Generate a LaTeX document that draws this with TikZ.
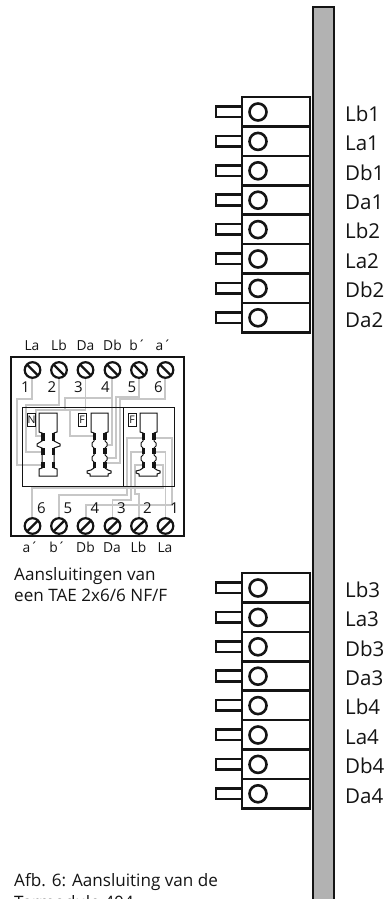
\documentclass[tikz,border=0pt]{standalone}
\usepackage{fontspec}
\setmainfont{Open Sans}
\definecolor{rail}{gray}{0.70}
\definecolor{wire}{gray}{0.78}
\definecolor{ink}{gray}{0.08}
\tikzset{
  heavy/.style={draw=ink,line width=2.6pt},
  raillined/.style={draw=ink,line width=2pt},
  thin box/.style={draw=ink,line width=0.9pt},
  wirepath/.style={draw=wire,line width=1.4pt,line join=miter},
  biglabel/.style={anchor=base west,inner sep=0pt,font=\fontsize{20.5}{20.5}\selectfont,text=ink},
  smalllabel/.style={anchor=base,inner sep=0pt,font=\fontsize{13.8}{13.8}\selectfont,text=ink},
  numlabel/.style={anchor=base,inner sep=0pt,font=\fontsize{15}{15}\selectfont,text=ink},
  caption/.style={anchor=base west,inner sep=0pt,font=\fontsize{17.1}{17.1}\selectfont,text=ink},
  tagbox/.style={draw=ink,line width=0.7pt,fill=white,minimum width=8pt,minimum height=13pt,inner sep=0pt,font=\fontsize{10.5}{10.5}\selectfont,text=ink},
}
% one terminal: #1 top y, #2 name
\newcommand{\terminal}[2]{%
  \draw[heavy,fill=white] (216,#1+9.5) rectangle (242,#1+20);
  \draw[heavy,fill=white] (242,#1) rectangle (310,#1+29.4);
  \draw[heavy,fill=white] (258,#1+15) circle (8.5);
  \node[biglabel] (#2) at (345,#1+24.3) {#2};
}
% one screw: #1 x, #2 y, #3 dx, #4 dy
\newcommand{\screw}[4]{%
  \draw[draw=ink,line width=2.2pt,fill=white] (#1,#2) circle (7.8);
  \draw[draw=ink,line width=2.2pt] (#1-#3,#2-#4) -- (#1+#3,#2+#4);
}
% jack outlines
\newcommand{\jackN}[1]{%
  \begin{scope}[xshift=#1pt]
  \draw[ink,line width=1pt,fill=white] (39,413) -- (57,413) -- (57,432) -- (54,433) -- (54,441) -- (60,444) -- (60,446) -- (54,448) -- (54,468) -- (57,469) -- (57,476) -- (39,476) -- (39,469) -- (42,468) -- (42,448) -- (37,446) -- (37,444) -- (42,441) -- (42,433) -- (39,432) -- cycle;
  \foreach \a/\b in {433/441,448/455,462/468}{
    \fill[ink] (41,\a) rectangle (44.5,\b);
    \fill[ink] (51.5,\a) rectangle (55,\b);
  }
  \end{scope}
}
\newcommand{\jackF}[1]{%
  \begin{scope}[xshift=#1pt]
  \draw[ink,line width=1pt,fill=white] (91,413) -- (108,413) -- (108,432) -- (105,433) -- (105,441) -- (107,443) -- (107,446) -- (105,448) -- (105,455) -- (107,457) -- (107,460) -- (105,462) -- (105,468) -- (108,470) -- (111,471) -- (111,473) -- (108,474) -- (108,476) -- (90,476) -- (90,474) -- (87,473) -- (87,471) -- (91,470) -- (94,468) -- (94,462) -- (92,460) -- (92,457) -- (94,455) -- (94,448) -- (92,446) -- (92,443) -- (94,441) -- (94,433) -- (91,432) -- cycle;
  \foreach \a/\b in {433/440,448/454,462/468}{
    \fill[ink] (92.5,\a) rectangle (96,\b);
    \fill[ink] (103,\a) rectangle (106.5,\b);
  }
  \end{scope}
}
\begin{document}
\begin{tikzpicture}[x=1pt,y=-1pt]
\useasboundingbox (0,0) rectangle (389,899);
\clip (0,0) rectangle (389,899);
\fill[white] (0,0) rectangle (389,899);
% rail
\draw[raillined,fill=rail] (312.5,920) -- (312.5,7) -- (334,7) -- (334,920);
% terminal strips
\terminal{97}{Lb1}
\terminal{126.4}{La1}
\terminal{155.8}{Db1}
\terminal{185.2}{Da1}
\terminal{214.6}{Lb2}
\terminal{244}{La2}
\terminal{273.4}{Db2}
\terminal{302.8}{Da2}
\terminal{573}{Lb3}
\terminal{602.4}{La3}
\terminal{631.8}{Db3}
\terminal{661.2}{Da3}
\terminal{690.6}{Lb4}
\terminal{720}{La4}
\terminal{749.4}{Db4}
\terminal{778.8}{Da4}
% TAE housing
\draw[draw=ink,line width=1.3pt] (11,357) rectangle (184,536);
% wires
\draw[wirepath] (32,378) -- (32,399) -- (17,399) -- (17,465) -- (41,465);
\draw[wirepath] (59,378) -- (59,405) -- (26,405) -- (26,452) -- (41,452);
\draw[wirepath] (85.5,378) -- (85.5,410) -- (36,410) -- (36,436) -- (41,436);
\draw[wirepath] (112,378) -- (112,398) -- (65,398) -- (65,410) -- (70,410) -- (70,436) -- (94,436);
\draw[wirepath] (112,398) -- (112,445) -- (105,445);
\draw[wirepath] (139,378) -- (139,397) -- (116,397) -- (116,458) -- (105,458);
\draw[wirepath] (165,378) -- (165,399) -- (120,399) -- (120,463) -- (105,463);
\draw[wirepath] (32,518) -- (32,488) -- (163,488) -- (163,465) -- (155,465);
\draw[wirepath] (59,518) -- (59,495) -- (127,495) -- (127,438) -- (145,438);
\draw[wirepath] (86,518) -- (86,505) -- (172,505) -- (172,438) -- (155,438);
\draw[wirepath] (112.5,518) -- (112.5,500) -- (131,500) -- (131,452) -- (145,452);
\draw[wirepath] (139,518) -- (139,494) -- (135,494) -- (135,465) -- (145,465);
\draw[wirepath] (165.5,518) -- (165.5,452) -- (155,452);
% inner frames
\draw[thin box] (22.5,407) rectangle (174,486);
\draw[thin box] (123.5,407) -- (123.5,486);
% jacks
\jackN{0}
\jackF{0}
\jackF{49}
\node[tagbox] (tagN) at (31.5,420) {N};
\node[tagbox] (tagF) at (82,420) {F};
\node[tagbox] (tagFb) at (132,420) {F};
% screws
\foreach \x in {32.5,59,85.5,112.5,139,165.5}{
  \screw{\x}{370}{5.5}{5.5}
  \screw{\x}{526}{5.5}{-5.5}
}
% top labels
\node[smalllabel] (tLa) at (32,350.7) {La};
\node[smalllabel] (tLb) at (59,350.7) {Lb};
\node[smalllabel] (tDa) at (85.5,350.7) {Da};
\node[smalllabel] (tDb) at (112.5,350.7) {Db};
\node[smalllabel] (tb) at (137.5,350.7) {b´};
\node[smalllabel] (ta) at (163.5,350.7) {a´};
\node[numlabel] (n1) at (25.5,392) {1};
\node[numlabel] (n2) at (52,392) {2};
\node[numlabel] (n3) at (78.5,392) {3};
\node[numlabel] (n4) at (105.5,392) {4};
\node[numlabel] (n5) at (132,392) {5};
\node[numlabel] (n6) at (158.5,392) {6};
% bottom labels
\node[numlabel] (m6) at (41.5,513) {6};
\node[numlabel] (m5) at (68,513) {5};
\node[numlabel] (m4) at (95,513) {4};
\node[numlabel] (m3) at (121.5,513) {3};
\node[numlabel] (m2) at (147.5,513) {2};
\node[numlabel] (m1) at (174.5,513) {1};
\node[smalllabel] (bA) at (30.5,552.7) {a´};
\node[smalllabel] (bB) at (57.5,552.7) {b´};
\node[smalllabel] (bDb) at (85.5,552.7) {Db};
\node[smalllabel] (bDa) at (112,552.7) {Da};
\node[smalllabel] (bLb) at (138.5,552.7) {Lb};
\node[smalllabel] (bLa) at (165,552.7) {La};
% captions
\node[caption] (c1) at (14,580) {Aansluitingen van};
\node[caption] (c2) at (14,601.7) {een TAE 2x6/6 NF/F};
\node[caption] (c3) at (14,886.7) {Afb. 6: Aansluiting van de};
\node[caption] (c4) at (14,908) {Tarmodule 404};
\end{tikzpicture}
\end{document}
